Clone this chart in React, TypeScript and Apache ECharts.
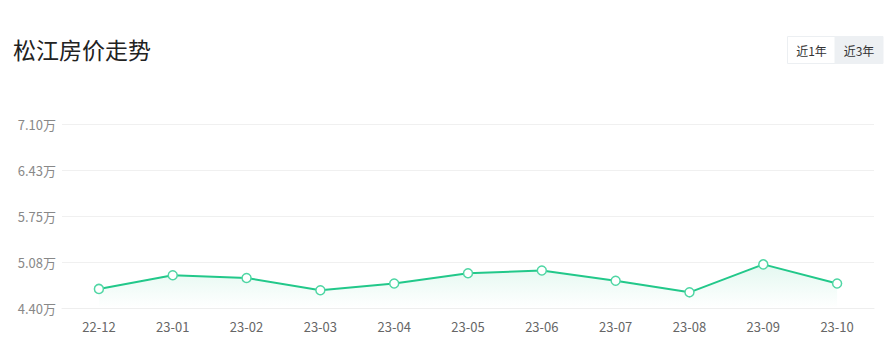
import React, { useEffect, useRef } from "react";
import * as echarts from "echarts";

const categories = ["22-12", "23-01", "23-02", "23-03", "23-04", "23-05", "23-06", "23-07", "23-08", "23-09", "23-10"];
const prices = [4.68, 4.88, 4.84, 4.66, 4.76, 4.91, 4.95, 4.8, 4.63, 5.04, 4.76];
const yMin = 4.4;
const yMax = 7.1;
const yInterval = 0.675;
const titleText = "松江房价走势";
const buttonLabels = ["近1年", "近3年"];

export default function App() {
  const ref = useRef<HTMLDivElement>(null);
  useEffect(() => {
    if (!ref.current) return;
    const chart = echarts.init(ref.current, undefined, { renderer: "svg" });
    const font = "'Noto Sans CJK SC', 'Noto Sans', sans-serif";
    chart.setOption({
      animation: false,
      backgroundColor: "#fff",
      title: {
        text: titleText,
        left: 8,
        top: 32,
        textStyle: { fontSize: 23, fontWeight: "normal", color: "#222", fontFamily: font },
      },
      graphic: [
        {
          type: "rect",
          shape: { x: 787.5, y: 36.5, width: 48, height: 27 },
          style: { fill: "#fff", stroke: "#eceff2", lineWidth: 1 },
        },
        {
          type: "rect",
          shape: { x: 835, y: 36.5, width: 48, height: 27 },
          style: { fill: "#edf0f3", stroke: "#edf0f3", lineWidth: 1 },
        },
        {
          type: "text",
          x: 811.5,
          y: 50,
          style: { text: buttonLabels[0], fill: "#333", fontSize: 12, fontFamily: font, align: "center", verticalAlign: "middle" },
        },
        {
          type: "text",
          x: 859,
          y: 50,
          style: { text: buttonLabels[1], fill: "#333", fontSize: 12, fontFamily: font, align: "center", verticalAlign: "middle" },
        },
      ],
      grid: { left: 62, right: 18, top: 124, bottom: 47, containLabel: false },
      xAxis: {
        type: "category",
        data: categories,
        boundaryGap: true,
        axisLine: { show: true, lineStyle: { color: "#eeeeee" } },
        axisTick: { show: false },
        axisLabel: { color: "#666", fontSize: 13, margin: 12, fontFamily: font },
      },
      yAxis: {
        type: "value",
        min: yMin,
        max: yMax,
        interval: yInterval,
        axisLine: { show: false },
        axisTick: { show: false },
        splitLine: { lineStyle: { color: "#f0f0f0" } },
        axisLabel: {
          color: "#888",
          fontSize: 13,
          margin: 6,
          fontFamily: font,
          formatter: (v: number) => (Math.round(v * 100 + 1e-6) / 100).toFixed(2) + "万",
        },
      },
      series: [
        {
          type: "line",
          data: prices,
          symbol: "circle",
          symbolSize: 9,
          showAllSymbol: true,
          lineStyle: { color: "#22c88a", width: 2 },
          itemStyle: { color: "#fff", borderColor: "#4fd6a4", borderWidth: 1.5 },
          areaStyle: {
            color: new echarts.graphic.LinearGradient(0, 0, 0, 1, [
              { offset: 0, color: "rgba(34,200,138,0.18)" },
              { offset: 1, color: "rgba(34,200,138,0)" },
            ]),
            origin: "start",
          },
        },
      ],
    });
    return () => chart.dispose();
  }, []);
  return <div ref={ref} style={{ position: "fixed", left: 0, top: 0, width: 892, height: 355 }} />;
}
